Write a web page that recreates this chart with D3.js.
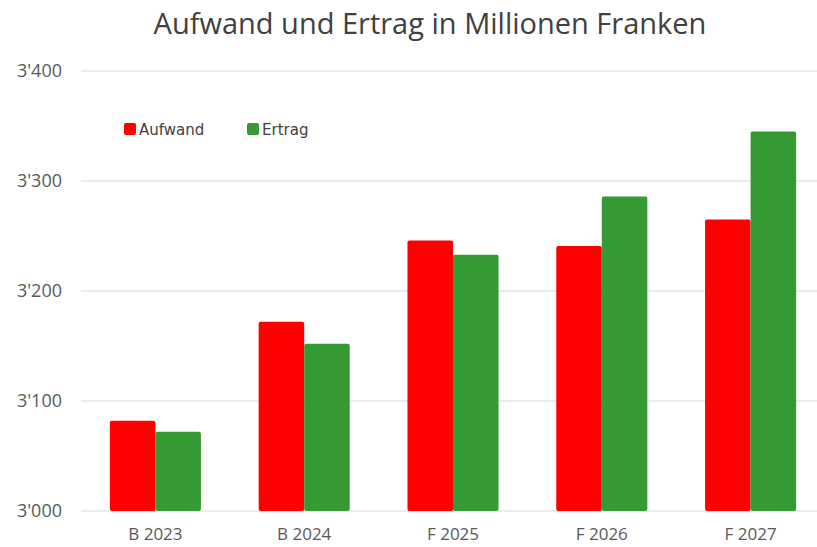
<!DOCTYPE html>
<html>
<head>
<meta charset="utf-8">
<script src="https://cdn.jsdelivr.net/npm/d3@7"></script>
<style>
  html, body { margin: 0; padding: 0; background: #fff; }
  svg { display: block; font-family: "Open Sans", "Liberation Sans", sans-serif; }
</style>
</head>
<body>
<div id="chart"></div>
<script>
const categories = ['B 2023', 'B 2024', 'F 2025', 'F 2026', 'F 2027']
const aufwand = [3082, 3172, 3246, 3241, 3265]
const ertrag = [3072, 3152, 3233, 3286, 3345]
const yTicks = [3000, 3100, 3200, 3300, 3400]
const series = [
  { name: 'Aufwand', values: aufwand, color: '#ff0000' },
  { name: 'Ertrag', values: ertrag, color: '#359a34' }
]

const width = 817, height = 547
const svg = d3.select('#chart').append('svg').attr('width', width).attr('height', height)

const fmt = d3.formatLocale({ decimal: '.', thousands: "'", grouping: [3], currency: ['', ''] }).format(',d')

const x = d3.scaleBand().domain(categories).range([81, 825]).paddingInner(0.388).paddingOuter(0.194)
const x1 = d3.scaleBand().domain(series.map(s => s.name)).range([0, x.bandwidth()])
const y = d3.scaleLinear().domain([3000, 3400]).range([511, 71])

// gridlines
svg.append('g')
  .selectAll('line')
  .data(yTicks)
  .join('line')
  .attr('x1', 81).attr('x2', width)
  .attr('y1', d => y(d)).attr('y2', d => y(d))
  .attr('stroke', '#d9d9d9').attr('stroke-width', 1)

// y axis labels
const yAxis = svg.append('g')
  .attr('transform', 'translate(62,0)')
  .call(d3.axisLeft(y).tickValues(yTicks).tickFormat(fmt).tickSize(0).tickPadding(0))
yAxis.select('.domain').remove()
yAxis.attr('font-size', null).attr('font-family', null)
yAxis.selectAll('text').style('font-size', '18px').attr('fill', '#595959')

// bars
const groups = svg.append('g')
  .selectAll('g')
  .data(categories)
  .join('g')
  .attr('transform', d => `translate(${x(d)},0)`)

groups.selectAll('rect')
  .data((d, i) => series.map(s => ({ name: s.name, color: s.color, value: s.values[i] })))
  .join('rect')
  .attr('x', d => x1(d.name))
  .attr('width', x1.bandwidth())
  .attr('y', d => y(d.value))
  .attr('height', d => y(3000) - y(d.value))
  .attr('rx', 2)
  .attr('fill', d => d.color)

// x axis labels
const xAxis = svg.append('g')
  .attr('transform', 'translate(0,511)')
  .call(d3.axisBottom(x).tickSize(0).tickPadding(17))
xAxis.select('.domain').remove()
xAxis.attr('font-size', null).attr('font-family', null)
xAxis.selectAll('text').style('font-size', '17px').attr('fill', '#595959')

// title
svg.append('text')
  .attr('x', 430).attr('y', 34)
  .attr('text-anchor', 'middle')
  .style('font-size', '29px')
  .attr('fill', '#404040')
  .text('Aufwand und Ertrag in Millionen Franken')

// legend
const legend = svg.append('g')
  .selectAll('g')
  .data(series)
  .join('g')
  .attr('transform', (d, i) => `translate(${124 + i * 123},123)`)
legend.append('rect')
  .attr('width', 12).attr('height', 12).attr('rx', 2)
  .attr('fill', d => d.color)
legend.append('text')
  .attr('x', 15).attr('y', 12)
  .style('font-family', '"DejaVu Sans", sans-serif')
  .style('font-size', '15px')
  .attr('fill', '#404040')
  .text(d => d.name)
</script>
</body>
</html>
